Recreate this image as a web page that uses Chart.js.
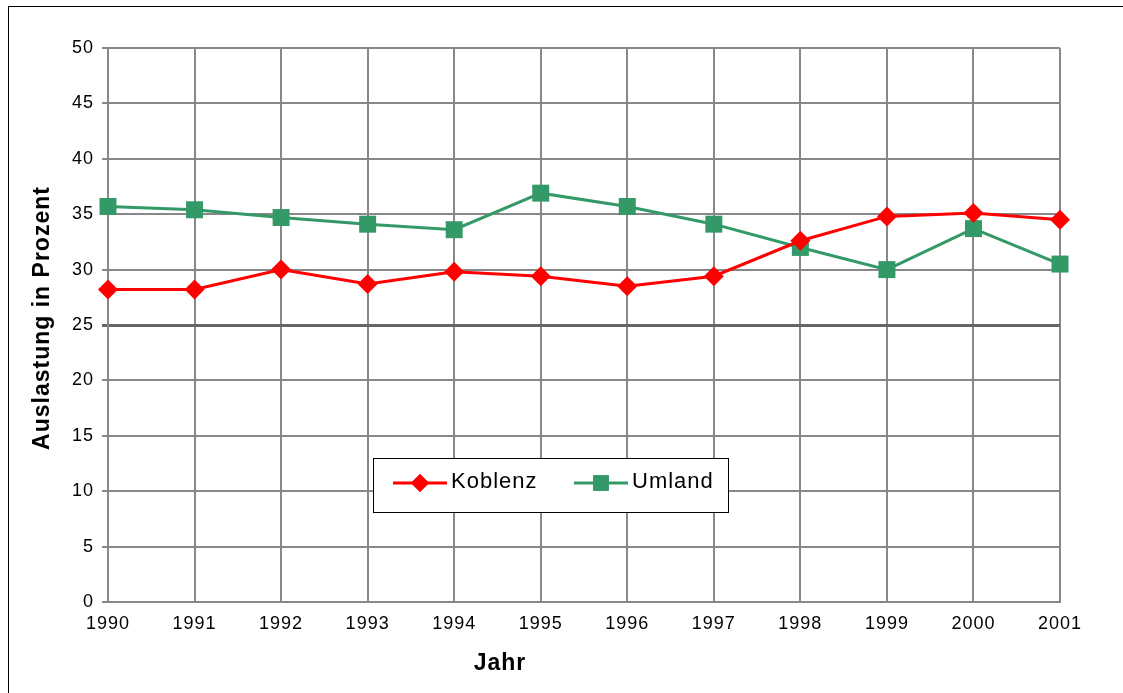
<!DOCTYPE html>
<html>
<head>
<meta charset="utf-8">
<script src="https://cdn.jsdelivr.net/npm/chart.js@4.4.1/dist/chart.umd.min.js"></script>
<style>
  body { margin: 0; background: #fff; }
  #frame { position: absolute; left: 8px; top: 6px; width: 1200px; height: 800px; border: 1px solid #000; }
  #wrap { position: absolute; left: 0; top: 0; width: 1123px; height: 693px; }
</style>
</head>
<body>
<div id="frame"></div>
<div id="wrap"><canvas id="chart"></canvas></div>
<script>
var jahre = ["1990", "1991", "1992", "1993", "1994", "1995", "1996", "1997", "1998", "1999", "2000", "2001"];
var koblenz = [28.2, 28.2, 30.0, 28.7, 29.8, 29.4, 28.5, 29.4, 32.6, 34.8, 35.1, 34.5];
var umland = [35.7, 35.4, 34.7, 34.1, 33.6, 36.9, 35.7, 34.1, 32.0, 30.0, 33.7, 30.5];

var fontFam = '"Liberation Sans", Arial, sans-serif';

// wider letter spacing, like the old Excel export
var spacing = {
    id: 'spacing',
    beforeDraw: function(chart) { chart.ctx.letterSpacing = '1px'; }
};

// legend box inside the plot + axis titles slightly off-centre as in the original
var boxLegend = {
    id: 'boxLegend',
    afterDraw: function(chart) {
        var ctx = chart.ctx;
        var x0 = 373, y0 = 458, w = 355, h = 54;
        ctx.save();
        ctx.letterSpacing = '1px';
        ctx.fillStyle = '#fff';
        ctx.fillRect(x0, y0, w, h);
        ctx.strokeStyle = '#000';
        ctx.lineWidth = 1;
        ctx.strokeRect(x0 + 0.5, y0 + 0.5, w, h);
        var items = [{ds: chart.data.datasets[0], x: 393}, {ds: chart.data.datasets[1], x: 574}];
        var cy = y0 + 25;
        items.forEach(function(it) {
            ctx.strokeStyle = it.ds.borderColor;
            ctx.lineWidth = 3;
            ctx.beginPath();
            ctx.moveTo(it.x, cy);
            ctx.lineTo(it.x + 54, cy);
            ctx.stroke();
            ctx.fillStyle = it.ds.borderColor;
            Chart.helpers.drawPoint(ctx, {pointStyle: it.ds.pointStyle, radius: it.ds.pointStyle === 'rect' ? 11 : 9, borderWidth: 0}, it.x + 27, cy);
            ctx.fill();
            ctx.fillStyle = '#000';
            ctx.font = '22px ' + fontFam;
            ctx.textBaseline = 'middle';
            ctx.fillText(it.ds.label, it.x + 58, cy - 1);
        });
        ctx.font = 'bold 23px ' + fontFam;
        ctx.textAlign = 'center';
        ctx.textBaseline = 'middle';
        ctx.fillText('Jahr', 500, 664);
        ctx.translate(43, 318);
        ctx.rotate(-Math.PI / 2);
        ctx.fillText('Auslastung in Prozent', 0, 0);
        ctx.restore();
    }
};

var ctx = document.getElementById('chart');
var myChart = new Chart(ctx, {
    type: 'line',
    data: {
        labels: jahre,
        datasets: [{
            label: 'Koblenz',
            data: koblenz,
            borderColor: '#FF0000',
            backgroundColor: '#FF0000',
            borderWidth: 3,
            pointStyle: 'rectRot',
            pointRadius: 10,
            pointBorderWidth: 0,
            tension: 0
        }, {
            label: 'Umland',
            data: umland,
            borderColor: '#339966',
            backgroundColor: '#339966',
            borderWidth: 3,
            pointStyle: 'rect',
            pointRadius: 12,
            pointBorderWidth: 0,
            tension: 0
        }]
    },
    options: {
        responsive: true,
        maintainAspectRatio: false,
        animation: false,
        layout: { padding: { left: 0, right: 63, top: 48, bottom: 0 } },
        plugins: {
            legend: { display: false },
            tooltip: { enabled: false }
        },
        scales: {
            x: {
                offset: false,
                grid: { color: '#888', lineWidth: 2, drawTicks: false },
                border: { color: '#888', width: 2 },
                ticks: { color: '#000', padding: 11, maxRotation: 0, font: { family: fontFam, size: 18 } },
                afterFit: function(s) { s.height = 91; }
            },
            y: {
                min: 0,
                max: 50,
                ticks: { stepSize: 5, color: '#000', padding: 8, font: { family: fontFam, size: 18 } },
                grid: {
                    color: function(c) { return c.tick && c.tick.value === 25 ? '#666' : '#888'; },
                    lineWidth: function(c) { return c.tick && c.tick.value === 25 ? 3 : 2; },
                    tickLength: 6
                },
                border: { color: '#888', width: 2 },
                afterFit: function(s) { s.width = 108; }
            }
        }
    },
    plugins: [spacing, boxLegend]
});
</script>
</body>
</html>
